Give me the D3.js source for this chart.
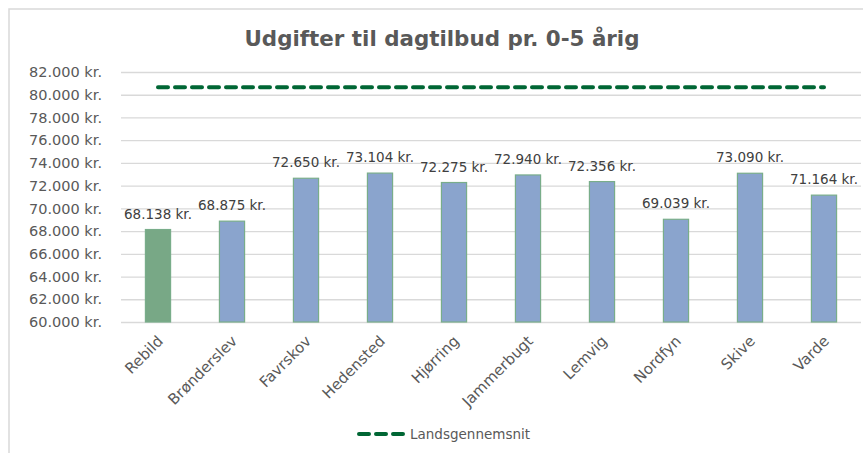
<!DOCTYPE html>
<html>
<head>
<meta charset="utf-8">
<script src="https://cdn.jsdelivr.net/npm/d3@7"></script>
<style>
  body { margin: 0; background: #fff; }
  svg { display: block; font-family: "DejaVu Sans", Verdana, sans-serif; }
</style>
</head>
<body>
<svg id="chart" width="863" height="453"></svg>
<script>
// data
var kommuner = ["Rebild", "Brønderslev", "Favrskov", "Hedensted", "Hjørring",
                "Jammerbugt", "Lemvig", "Nordfyn", "Skive", "Varde"];
var udgifter = [68138, 68875, 72650, 73104, 72275, 72940, 72356, 69039, 73090, 71164];
var landsgennemsnit = [80650, 80650, 80650, 80650, 80650, 80650, 80650, 80650, 80650, 80650];
var yTicks = [60000, 62000, 64000, 66000, 68000, 70000, 72000, 74000, 76000, 78000, 80000, 82000];

var svg = d3.select("#chart");
var width = 863, height = 453;

// outer chart frame
svg.append("rect")
    .attr("x", 9).attr("y", 9)
    .attr("width", width + 10).attr("height", height + 10)
    .attr("fill", "none")
    .attr("stroke", "#d9d9d9")
    .attr("stroke-width", 1.5);

var x = d3.scaleBand().domain(kommuner).range([121, 861]);
var y = d3.scaleLinear().domain([60000, 82000]).range([322, 72]);

var fmt = function(v){ return d3.format(",")(v).replace(/,/g, ".") + " kr."; };

svg.append("text")
    .attr("x", 442).attr("y", 46)
    .attr("text-anchor", "middle")
    .style("font-size", "21.4px")
    .style("font-weight", "bold")
    .style("fill", "#595959")
    .text("Udgifter til dagtilbud pr. 0-5 årig");

// gridlines + y labels
var yAxis = svg.append("g")
    .attr("transform", "translate(121,0)")
    .call(d3.axisLeft(y).tickValues(yTicks).tickSize(-740).tickFormat(fmt).tickPadding(19));
yAxis.select(".domain").remove();
yAxis.selectAll("line").attr("stroke", "#d9d9d9").attr("stroke-width", 1.3);
yAxis.selectAll("text")
    .style("font-size", "14.5px")
    .style("fill", "#595959")
    .style("font-family", "DejaVu Sans, Verdana, sans-serif");

// bars
var barW = x.bandwidth() * 0.34;
svg.selectAll(".bar")
    .data(udgifter)
    .enter().append("rect")
    .attr("class", "bar")
    .attr("x", function(d, i){ return x(kommuner[i]) + x.bandwidth() / 2 - barW / 2; })
    .attr("y", function(d){ return y(d); })
    .attr("width", barW)
    .attr("height", function(d){ return y(60000) - y(d); })
    .attr("fill", function(d, i){ return i == 0 ? "#78a886" : "#8aa4cd"; })
    .attr("stroke", "#79ad8a")
    .attr("stroke-width", 1.2);

// data labels
svg.selectAll(".lbl")
    .data(udgifter)
    .enter().append("text")
    .attr("class", "lbl")
    .attr("x", function(d, i){ return x(kommuner[i]) + x.bandwidth() / 2; })
    .attr("y", function(d){ return y(d) - 11; })
    .attr("text-anchor", "middle")
    .style("font-size", "13.5px")
    .style("fill", "#404040")
    .text(fmt);

// x labels, rotated
svg.selectAll(".cat")
    .data(kommuner)
    .enter().append("text")
    .attr("class", "cat")
    .attr("text-anchor", "end")
    .attr("transform", function(d){
        return "translate(" + (x(d) + x.bandwidth() / 2 + 6) + ",342) rotate(-45)";
    })
    .style("font-size", "15px")
    .style("fill", "#595959")
    .text(function(d){ return d; });

// national average line
var line = d3.line()
    .x(function(d, i){ return x(kommuner[i]) + x.bandwidth() / 2; })
    .y(function(d){ return y(d); });
svg.append("path")
    .datum(landsgennemsnit)
    .attr("d", line)
    .attr("fill", "none")
    .attr("stroke", "#006634")
    .attr("stroke-width", 4)
    .attr("stroke-linecap", "round")
    .attr("stroke-dasharray", "10,7");

// legend
svg.append("line")
    .attr("x1", 359).attr("x2", 404)
    .attr("y1", 434).attr("y2", 434)
    .attr("stroke", "#006634")
    .attr("stroke-width", 4)
    .attr("stroke-linecap", "round")
    .attr("stroke-dasharray", "10,7");
svg.append("text")
    .attr("x", 410).attr("y", 439)
    .style("font-size", "13.5px")
    .style("fill", "#595959")
    .text("Landsgennemsnit");
</script>
</body>
</html>
